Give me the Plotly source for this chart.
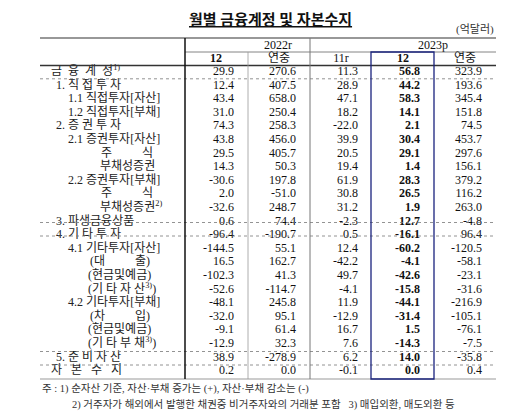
import plotly.graph_objects as go

labels = ["금  융  계  정<sup>1)</sup>", "1. 직 접 투 자", "1.1 직접투자[자산]", "1.2 직접투자[부채]",
          "2. 증 권 투 자", "2.1 증권투자[자산]", "주          식", "부채성증권",
          "2.2 증권투자[부채]", "주          식", "부채성증권<sup>2)</sup>", "3. 파생금융상품",
          "4. 기 타 투 자", "4.1 기타투자[자산]", "(대          출)", "(현금및예금)", "(기 타 자 산<sup>3)</sup>)",
          "4.2 기타투자[부채]", "(차          입)", "(현금및예금)", "(기 타 부 채<sup>3)</sup>)",
          "5. 준 비 자 산", "자   본   수   지"]
label_x = [43, 48, 60, 60, 48, 60, 93, 92, 60, 93, 92, 48, 48, 60, 82, 80, 80, 60, 82, 80, 80, 48, 43]
y2022_12 = [29.9, 12.4, 43.4, 31.0, 74.3, 43.8, 29.5, 14.3, -30.6, 2.0, -32.6, 0.6, -96.4, -144.5, 16.5,
            -102.3, -52.6, -48.1, -32.0, -9.1, -12.9, 38.9, 0.2]
y2022_yr = [270.6, 407.5, 658.0, 250.4, 258.3, 456.0, 405.7, 50.3, 197.8, -51.0, 248.7, 74.4, -190.7, 55.1,
            162.7, 41.3, -114.7, 245.8, 95.1, 61.4, 32.3, -278.9, 0.0]
y2023_11 = [11.3, 28.9, 47.1, 18.2, -22.0, 39.9, 20.5, 19.4, 61.9, 30.8, 31.2, -2.3, 0.5, 12.4, -42.2,
            49.7, -4.1, 11.9, -12.9, 16.7, 7.6, 6.2, -0.1]
y2023_12 = [56.8, 44.2, 58.3, 14.1, 2.1, 30.4, 29.1, 1.4, 28.3, 26.5, 1.9, 12.7, -16.1, -60.2, -4.1,
            -42.6, -15.8, -44.1, -31.4, 1.5, -14.3, 14.0, 0.0]
y2023_yr = [323.9, 193.6, 345.4, 151.8, 74.5, 453.7, 297.6, 156.1, 379.2, 116.2, 263.0, -4.8, 96.4, -120.5,
            -58.1, -23.1, -31.6, -216.9, -105.1, -76.1, -7.5, -35.8, 0.4]

FONT = "Liberation Serif, Noto Sans CJK KR"
row_y = [64 + i * 13.6 for i in range(len(labels))]
fig = go.Figure()

fig.add_trace(go.Scatter(x=label_x, y=row_y, mode="text", text=labels, textposition="middle right",
                         textfont=dict(family=FONT, size=12, color="#222")))
cols = [(226, y2022_12, False), (288, y2022_yr, False), (350, y2023_11, False),
        (412, y2023_12, True), (474, y2023_yr, False)]
for xr, vals, bold in cols:
    txt = [f"<b>{v:.1f}</b>" if bold else f"{v:.1f}" for v in vals]
    fig.add_trace(go.Scatter(x=[xr] * len(vals), y=row_y, mode="text", text=txt,
                             textposition="middle left",
                             textfont=dict(family=FONT, size=12, color="#111")))

# header texts
hdr = [(270, 37.5, "2022r"), (425, 37.5, "2023p"), (208, 50.5, "<b>12</b>"), (271, 50.5, "연중"),
       (333, 50.5, "11r"), (395, 50.5, "<b>12</b>"), (457, 50.5, "연중")]
fig.add_trace(go.Scatter(x=[h[0] for h in hdr], y=[h[1] for h in hdr], mode="text",
                         text=[h[2] for h in hdr], textfont=dict(family=FONT, size=12, color="#111")))

shapes = []
def line(x0, y0, x1, y1, w=1, c="#333", dash="solid"):
    shapes.append(dict(type="line", x0=x0, y0=y0, x1=x1, y1=y1, line=dict(width=w, color=c, dash=dash)))

line(32, 30, 488, 30, 1.2)
line(177, 44, 488, 44, 0.8, "#666")
line(32, 57.5, 488, 57.5, 1.5)
for yy in [70.8, 214.5, 228, 343.5, 357]:
    line(32, yy, 488, yy, 0.8, "#777", "dot")
line(32, 371, 488, 371, 1.5, "#bbb")
line(177, 30, 177, 371, 1.5, "#111")
line(302, 30, 302, 371, 1, "#777")
line(240, 44, 240, 371, 0.8, "#999")
shapes.append(dict(type="rect", x0=363, y0=44, x1=426, y1=371, line=dict(width=1.3, color="#1a237e")))
fig.update_layout(shapes=shapes)

fig.add_annotation(x=262, y=12, text="<u><b>월별 금융계정 및 자본수지</b></u>", showarrow=False,
                   font=dict(family=FONT, size=15, color="#111"))
fig.add_annotation(x=488, y=21, text="(억달러)", showarrow=False, xanchor="right",
                   font=dict(family=FONT, size=11, color="#333"))
fig.add_annotation(x=32, y=381, text="주 : 1) 순자산 기준, 자산·부채 증가는 (+), 자산·부채 감소는 (-)", showarrow=False,
                   xanchor="left", font=dict(family=FONT, size=10.5, color="#333"))
fig.add_annotation(x=62, y=396, text="2) 거주자가 해외에서 발행한 채권중 비거주자와의 거래분 포함   3) 매입외환, 매도외환 등",
                   showarrow=False, xanchor="left", font=dict(family=FONT, size=10.5, color="#333"))

fig.update_xaxes(range=[0, 525], visible=False)
fig.update_yaxes(range=[412, 0], visible=False)
fig.update_layout(width=525, height=412, margin=dict(l=0, r=0, t=0, b=0), showlegend=False,
                  plot_bgcolor="white", paper_bgcolor="white")
fig.write_html("out.html")
